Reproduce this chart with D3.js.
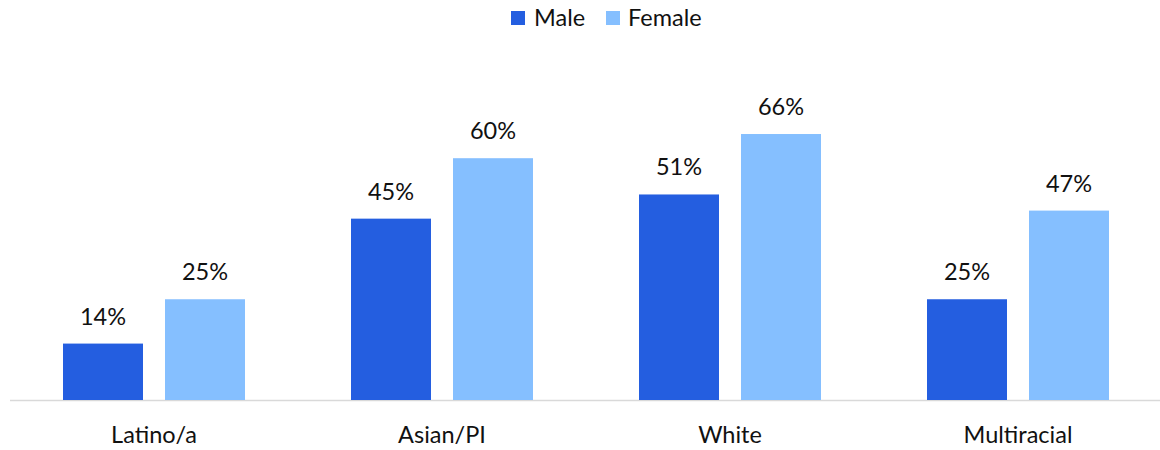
<!DOCTYPE html>
<html><head><meta charset="utf-8">
<script src="https://cdn.jsdelivr.net/npm/d3@7"></script>
<style>body{margin:0;background:#fff}svg{display:block}text{font-family:Lato,"Open Sans",sans-serif;fill:#111}</style>
</head><body><svg width="1160" height="450"></svg>
<script>
const categories = ["Latino/a","Asian/PI","White","Multiracial"];
const series = ["Male","Female"];
const maleValues = [14,45,51,25];
const femaleValues = [25,60,66,47];
const colors = ["#245EE0","#85BFFF"];

const svg = d3.select("svg");
const font = "23.5px";
const x = d3.scaleBand().domain(categories).range([10,1162]).padding(0);
const xi = d3.scaleBand().domain(series).range([144-91,144+91]).paddingInner(22/102).paddingOuter(0);
const y = d3.scaleLinear().domain([0,70]).range([400,400-4.03*70]);

const data = categories.map((c,i)=>({cat:c, vals:[maleValues[i],femaleValues[i]]}));

// axis line
svg.append("line").attr("x1",10).attr("x2",1160).attr("y1",400.5).attr("y2",400.5)
  .attr("stroke","#d9d9d9").attr("stroke-width",1.5);

const g = svg.selectAll("g.cat").data(data).join("g").attr("class","cat")
  .attr("transform",d=>`translate(${x(d.cat)},0)`);
g.selectAll("rect").data(d=>d.vals.map((v,j)=>({s:series[j],v,j}))).join("rect")
  .attr("x",d=>xi(d.s)).attr("width",xi.bandwidth())
  .attr("y",d=>y(d.v)).attr("height",d=>y(0)-y(d.v))
  .attr("fill",d=>colors[d.j]);
g.selectAll("text.val").data(d=>d.vals.map((v,j)=>({s:series[j],v,j}))).join("text")
  .attr("class","val").attr("x",d=>xi(d.s)+xi.bandwidth()/2).attr("y",d=>y(d.v)-19)
  .attr("text-anchor","middle").style("font-size",font).text(d=>d.v+"%");

// x axis labels
const xAxis = d3.axisBottom(x).tickSize(0).tickPadding(0);
const ax = svg.append("g").attr("transform","translate(0,400)").call(xAxis);
ax.select(".domain").remove();
ax.selectAll("text").attr("dy",0).attr("y",43).style("font-size",font)
  .style("font-family","Lato, 'Open Sans', sans-serif").attr("fill","#111");

// legend
const legendItems = [{s:"Male",x:511,tx:534},{s:"Female",x:606,tx:628}];
const lg = svg.append("g");
legendItems.forEach((d,i)=>{
  lg.append("rect").attr("x",d.x).attr("y",11).attr("width",14).attr("height",14).attr("fill",colors[i]);
  lg.append("text").attr("x",d.tx).attr("y",26).style("font-size",font).text(d.s);
});
</script></body></html>
